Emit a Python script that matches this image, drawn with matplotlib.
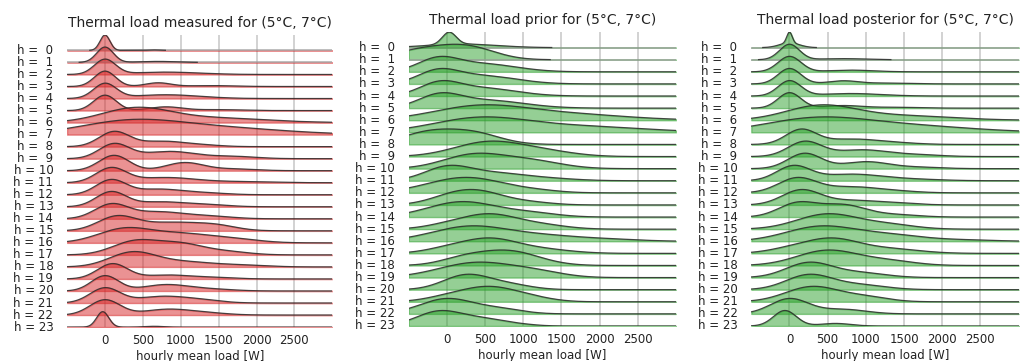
import numpy as np
import matplotlib.pyplot as plt

hours = list(range(24))
x_ticks = [0, 500, 1000, 1500, 2000, 2500]
x_lo, x_hi = -500, 3000

# ridge shape per hour:
# (centre [W], spread [W], relative height); every ridge is scaled to its own max
measured_peaks = [
    [(0, 65, 1.3), (650, 90, 0.04)],
    [(0, 110, 0.45), (700, 250, 0.03)],
    [(0, 140, 0.5), (800, 450, 0.08)],
    [(0, 140, 0.5), (700, 170, 0.12), (1400, 300, 0.03)],
    [(0, 150, 0.5), (800, 450, 0.13)],
    [(0, 150, 0.5), (800, 220, 0.12), (1500, 300, 0.03)],
    [(400, 450, 0.35), (1400, 700, 0.12)],
    [(300, 650, 0.9), (1400, 900, 0.55)],
    [(120, 200, 1.1), (750, 300, 0.4), (1300, 250, 0.1)],
    [(120, 200, 1.0), (850, 350, 0.5), (1700, 300, 0.15)],
    [(120, 200, 1.05), (1050, 250, 0.55), (1700, 300, 0.12)],
    [(80, 200, 1.1), (800, 400, 0.4), (1800, 400, 0.08)],
    [(80, 200, 0.95), (700, 300, 0.35), (1300, 300, 0.12)],
    [(80, 200, 0.95), (700, 300, 0.3), (1300, 300, 0.15)],
    [(80, 220, 0.9), (700, 350, 0.45), (1400, 300, 0.15)],
    [(150, 250, 0.85), (900, 450, 0.55), (1500, 250, 0.2)],
    [(250, 350, 0.8), (1000, 400, 0.5), (1700, 350, 0.2)],
    [(400, 300, 0.85), (1000, 300, 0.65), (1600, 300, 0.2)],
    [(350, 300, 1.0), (1000, 450, 0.4), (1900, 300, 0.1)],
    [(100, 200, 1.0), (800, 300, 0.25), (1400, 300, 0.1)],
    [(0, 180, 0.85), (800, 300, 0.35), (1400, 300, 0.1)],
    [(0, 200, 0.9), (700, 300, 0.35), (1200, 300, 0.2)],
    [(0, 200, 0.85), (800, 300, 0.3), (1300, 300, 0.12)],
    [(-30, 80, 1.2), (650, 120, 0.06)],
]

prior_peaks = [
    [(30, 90, 1.0), (200, 450, 0.3)],
    [(-300, 400, 0.9), (300, 350, 1.0)],
    [(-120, 260, 1.0), (450, 450, 0.7)],
    [(-120, 260, 1.0), (450, 450, 0.72)],
    [(-100, 260, 1.0), (450, 450, 0.7)],
    [(-100, 270, 1.0), (500, 500, 0.7)],
    [(400, 600, 0.6), (1500, 800, 0.3)],
    [(400, 600, 1.0), (1600, 900, 0.5)],
    [(-250, 350, 0.9), (350, 350, 0.85)],
    [(550, 450, 1.0), (1300, 400, 0.3)],
    [(350, 400, 1.0), (1100, 400, 0.55)],
    [(0, 300, 0.9), (600, 400, 0.5), (1300, 400, 0.15)],
    [(250, 500, 1.0), (1200, 300, 0.1)],
    [(400, 350, 1.1), (0, 300, 0.4), (1100, 300, 0.2)],
    [(200, 450, 1.0), (1100, 350, 0.25)],
    [(550, 350, 1.1), (0, 300, 0.3), (1200, 350, 0.35)],
    [(300, 500, 1.0), (1300, 500, 0.35), (2200, 400, 0.1)],
    [(550, 350, 1.1), (0, 300, 0.35), (1200, 400, 0.35)],
    [(800, 400, 1.0), (200, 300, 0.4)],
    [(400, 500, 1.05), (1200, 350, 0.3)],
    [(250, 300, 1.0), (800, 300, 0.35)],
    [(550, 350, 1.0), (0, 300, 0.3), (1100, 300, 0.25)],
    [(0, 350, 1.0), (700, 300, 0.3)],
    [(-100, 300, 0.9), (500, 300, 0.4), (1000, 200, 0.05)],
]

posterior_peaks = [
    [(0, 35, 0.9), (0, 130, 0.4)],
    [(0, 130, 0.7), (700, 300, 0.05)],
    [(0, 150, 0.9), (800, 300, 0.1)],
    [(0, 150, 0.9), (700, 200, 0.18), (1300, 300, 0.05)],
    [(0, 150, 0.9), (800, 400, 0.15)],
    [(0, 150, 0.9), (700, 250, 0.15), (1400, 300, 0.05)],
    [(400, 450, 0.35), (1400, 700, 0.12)],
    [(300, 650, 0.9), (1400, 900, 0.55)],
    [(150, 200, 1.1), (800, 350, 0.4), (1400, 300, 0.1)],
    [(200, 220, 1.1), (950, 350, 0.5), (1700, 300, 0.12)],
    [(200, 220, 1.1), (1000, 300, 0.5), (1700, 300, 0.1)],
    [(50, 220, 1.0), (800, 400, 0.45), (1600, 400, 0.1)],
    [(100, 250, 1.0), (800, 350, 0.4), (1400, 300, 0.1)],
    [(150, 250, 1.0), (800, 350, 0.3), (1400, 300, 0.1)],
    [(100, 250, 0.9), (700, 300, 0.8), (1400, 300, 0.15)],
    [(500, 400, 1.05), (1300, 350, 0.3)],
    [(400, 450, 0.95), (1300, 450, 0.4), (2300, 400, 0.08)],
    [(550, 350, 1.1), (0, 300, 0.3), (1300, 400, 0.35)],
    [(500, 400, 1.05), (1300, 350, 0.3)],
    [(250, 300, 1.05), (900, 350, 0.35)],
    [(250, 300, 1.05), (900, 350, 0.35)],
    [(300, 350, 1.0), (1000, 300, 0.3)],
    [(0, 250, 1.0), (700, 300, 0.3)],
    [(-60, 150, 1.2), (600, 200, 0.2)],
]

panels = [
    ("Thermal load measured for (5°C, 7°C)", measured_peaks, "tab:red", [0.065, 0.094, 0.257, 0.809]),
    ("Thermal load prior for (5°C, 7°C)", prior_peaks, "tab:green", [0.396, 0.097, 0.259, 0.814]),
    ("Thermal load posterior for (5°C, 7°C)", posterior_peaks, "tab:green", [0.728, 0.097, 0.259, 0.814]),
]

RIDGE_H = 1.28   # ridge height in row spacings (each hour scaled to its own max)


def ridge(xs, peaks):
    y = np.zeros_like(xs)
    for c, s, h in peaks:
        y += h * np.exp(-0.5 * ((xs - c) / s) ** 2)
    return y / y.max() * RIDGE_H


fig = plt.figure(figsize=(10.32, 3.61), dpi=100)
xs = np.linspace(x_lo, x_hi, 700)
n = len(hours)
top = n - 1 + RIDGE_H

for title, peaks, color, rect in panels:
    ax = fig.add_axes(rect)
    for i, h in enumerate(hours):
        base = n - 1 - i
        y = ridge(xs, peaks[i])
        z = 10 + i * 3
        ax.fill_between(xs, base, base + y, color=color, alpha=0.5, lw=1, zorder=z)
        if i < 2:
            ax.plot([x_lo, x_hi], [base, base], color="#a0a0a0", lw=1.2, alpha=0.8, zorder=z + 1)
            m = y > 0.01
            ax.plot(xs[m], base + y[m], color="#2a2a2a", lw=0.9, alpha=0.85, zorder=z + 2)
        else:
            ax.plot(xs, base + y, color="#2a2a2a", lw=0.9, alpha=0.85, zorder=z + 2)
        ax.text(-0.052, base / top, "h = %2d" % h, transform=ax.transAxes,
                ha="right", va="center", fontsize=8.5, color="#222222")
    ax.set_xlim(x_lo, x_hi)
    ax.set_ylim(0, top)
    ax.set_xticks(x_ticks)
    ax.set_yticks([])
    ax.grid(axis="x", color="#999999", alpha=0.55, lw=1.1, zorder=0)
    ax.set_axisbelow(True)
    for sp in ax.spines.values():
        sp.set_visible(False)
    ax.tick_params(axis="x", length=0, labelsize=8.5, pad=5, labelcolor="#222222")
    ax.set_xlabel("hourly mean load [W]", fontsize=8.5, labelpad=2, color="#222222")
    ax.set_title(title, fontsize=10, pad=6, color="#222222")

fig.savefig("out.png", dpi=100)
